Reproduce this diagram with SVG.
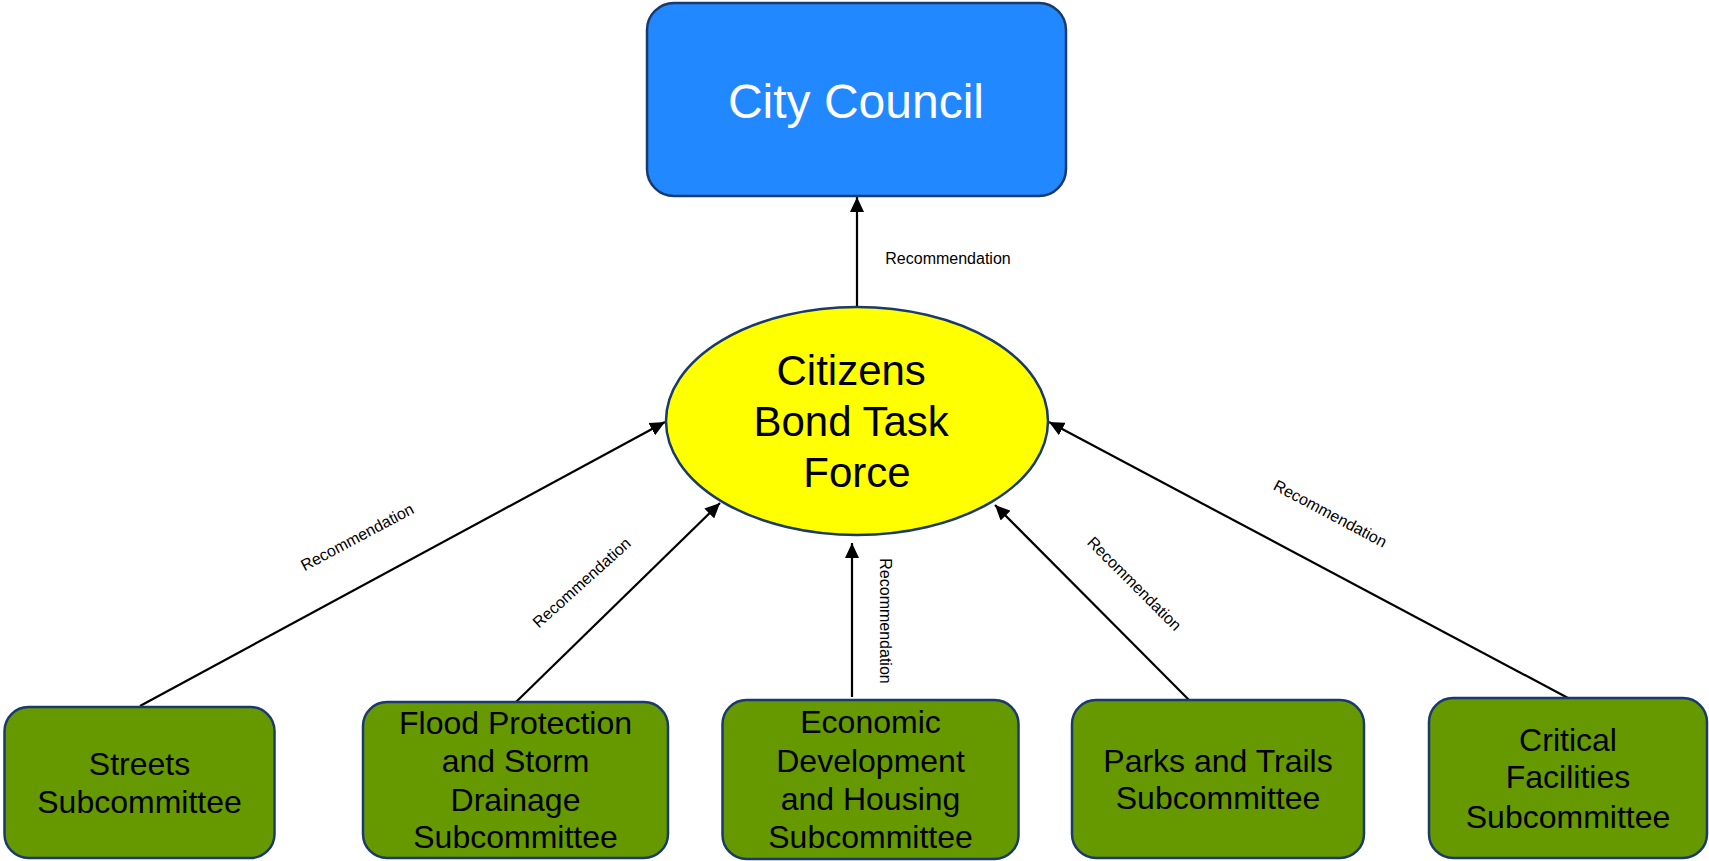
<svg xmlns="http://www.w3.org/2000/svg" width="1709" height="861" viewBox="0 0 1709 861">
<style>
.sub rect{fill:#669900;stroke:#1a3a6b;stroke-width:2.5}
.sub text{font-family:"Liberation Sans",Arial,sans-serif;font-size:32px;fill:#000;text-anchor:middle}
.edge{stroke:#000;stroke-width:2.2;fill:none;marker-end:url(#ah)}
.lbl{font-family:"Liberation Sans",Arial,sans-serif;font-size:16px;fill:#000;text-anchor:middle}
</style>
<defs>
<marker id="ah" markerUnits="userSpaceOnUse" markerWidth="16" markerHeight="14" refX="15" refY="7" orient="auto">
<path d="M0,0 L15,7 L0,14 z" fill="#000"/>
</marker>
</defs>
<rect width="1709" height="861" fill="#fff"/>
<g id="connectors">
<line class="edge" x1="857" y1="307" x2="857" y2="197"/>
<line class="edge" x1="140" y1="706" x2="665" y2="422"/>
<line class="edge" x1="516" y1="702" x2="720" y2="503"/>
<line class="edge" x1="852" y1="697" x2="852" y2="543"/>
<line class="edge" x1="1191" y1="702" x2="995" y2="505"/>
<line class="edge" x1="1568" y1="698" x2="1049" y2="422"/>
<text class="lbl" x="948" y="264">Recommendation</text>
<text class="lbl" transform="translate(357.5,537.5) rotate(-28)" y="5">Recommendation</text>
<text class="lbl" transform="translate(582,583) rotate(-42)" y="5">Recommendation</text>
<text class="lbl" transform="translate(885,621) rotate(90)" y="5">Recommendation</text>
<text class="lbl" transform="translate(1134,584) rotate(45)" y="5">Recommendation</text>
<text class="lbl" transform="translate(1330,514) rotate(28)" y="5">Recommendation</text>
</g>
<g id="city-council">
<rect x="647" y="3" width="419" height="193" rx="27" fill="#2288ff" stroke="#1a3a6b" stroke-width="2.5"/>
<text x="856" y="118" font-family="Liberation Sans, Arial, sans-serif" font-size="48" fill="#fff" text-anchor="middle">City Council</text>
</g>
<g id="task-force">
<ellipse cx="857" cy="421" rx="191" ry="114" fill="#ffff00" stroke="#1a3a6b" stroke-width="2.5"/>
<text font-family="Liberation Sans, Arial, sans-serif" font-size="42" fill="#000" text-anchor="middle">
<tspan x="857" y="385">Citizens</tspan>
<tspan x="857" y="436">Bond Task</tspan>
<tspan x="857" y="487">Force</tspan>
</text>
</g>
<g id="streets" class="sub">
<rect x="4.5" y="707" width="270" height="151" rx="24"/>
<text><tspan x="139.5" y="775">Streets</tspan><tspan x="139.5" y="813">Subcommittee</tspan></text>
</g>
<g id="flood" class="sub">
<rect x="363" y="702" width="305" height="156" rx="24"/>
<text><tspan x="515.5" y="734">Flood Protection</tspan><tspan x="515.5" y="772">and Storm</tspan><tspan x="515.5" y="810.5">Drainage</tspan><tspan x="515.5" y="848">Subcommittee</tspan></text>
</g>
<g id="economic" class="sub">
<rect x="722.5" y="700" width="296" height="159" rx="24"/>
<text><tspan x="870.5" y="733">Economic</tspan><tspan x="870.5" y="771.5">Development</tspan><tspan x="870.5" y="810">and Housing</tspan><tspan x="870.5" y="847.5">Subcommittee</tspan></text>
</g>
<g id="parks" class="sub">
<rect x="1072" y="700" width="292" height="158" rx="24"/>
<text><tspan x="1218" y="771.5">Parks and Trails</tspan><tspan x="1218" y="809">Subcommittee</tspan></text>
</g>
<g id="critical" class="sub">
<rect x="1429" y="698" width="278" height="160" rx="24"/>
<text><tspan x="1568" y="750.5">Critical</tspan><tspan x="1568" y="788">Facilities</tspan><tspan x="1568" y="827.5">Subcommittee</tspan></text>
</g>
</svg>
